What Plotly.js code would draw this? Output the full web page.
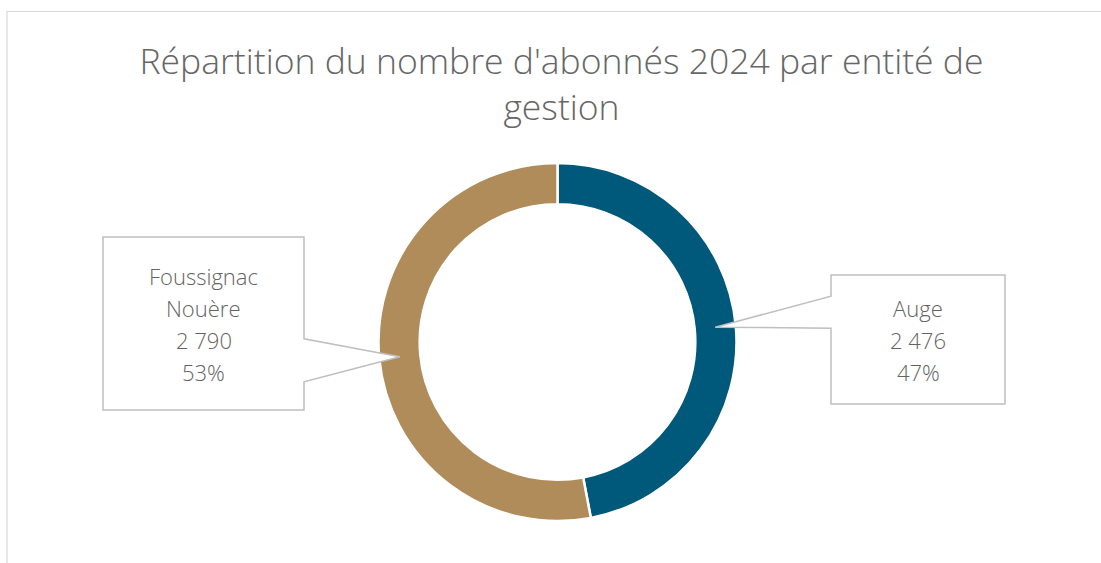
<!DOCTYPE html>
<html><head><meta charset="utf-8">
<script src="https://cdn.plot.ly/plotly-3.0.1.min.js"></script>
<style>html,body{margin:0;padding:0;background:#fff;}#c{width:1101px;height:563px;}</style>
</head><body><div id="c"></div>
<script>
const categories = ["Auge", "Foussignac Nouère"];
const labelLines = [["Auge"], ["Foussignac", "Nouère"]];
const values = [2476, 2790];
const colors = ["#00587a", "#b08c5a"];
const titleText = "Répartition du nombre d'abonnés 2024 par entité de<br>gestion";

const W = 1101, H = 563;
const px = x => x / W, py = y => 1 - y / H;
const cx = 557.5, cy = 342, R = 179, hole = 0.77;
const total = values.reduce((a, b) => a + b, 0);
const fmt = v => String(v).replace(/\B(?=(\d{3})+(?!\d))/g, " ");

// callout boxes (pixel layout)
const boxes = [
  {x0: 831, y0: 275, x1: 1005, y1: 404, side: "left"},
  {x0: 103, y0: 237, x1: 304, y1: 410, side: "right"}
];

const shapes = [{
  type: "rect", xref: "paper", yref: "paper",
  x0: px(7), x1: px(1120), y0: py(11.5), y1: py(600),
  line: {color: "#d9d9d9", width: 1.2}, fillcolor: "rgba(0,0,0,0)", layer: "below"
}];
const annotations = [];

let cum = 0;
values.forEach((v, i) => {
  const mid = (cum + v / 2) / total;
  cum += v;
  const th = 2 * Math.PI * mid;
  const rm = R * (1 + hole) / 2;
  const tx = cx + rm * Math.sin(th), ty = cy - rm * Math.cos(th);
  const b = boxes[i];
  let d;
  if (b.side === "left") {
    const ya = ty - 31, yb = ty + 1;
    d = `M${px(b.x0)},${py(b.y0)} L${px(b.x1)},${py(b.y0)} L${px(b.x1)},${py(b.y1)} L${px(b.x0)},${py(b.y1)} L${px(b.x0)},${py(yb)} L${px(tx)},${py(ty)} L${px(b.x0)},${py(ya)} Z`;
  } else {
    const ya = ty - 18, yb = ty + 25;
    d = `M${px(b.x0)},${py(b.y0)} L${px(b.x1)},${py(b.y0)} L${px(b.x1)},${py(ya)} L${px(tx)},${py(ty)} L${px(b.x1)},${py(yb)} L${px(b.x1)},${py(b.y1)} L${px(b.x0)},${py(b.y1)} Z`;
  }
  shapes.push({type: "path", xref: "paper", yref: "paper", path: d,
    fillcolor: "#ffffff", line: {color: "#bfbfbf", width: 1.5}, layer: "above"});
  const lines = labelLines[i].concat([fmt(v), Math.round(v / total * 100) + "%"]);
  const lh = 32;
  const bc = (b.y0 + b.y1) / 2;
  const bx = (b.x0 + b.x1) / 2;
  lines.forEach((t, k) => {
    const yy = bc + (k - (lines.length - 1) / 2) * lh;
    annotations.push({xref: "paper", yref: "paper", x: px(bx), y: py(yy),
      xanchor: "center", yanchor: "middle", showarrow: false, text: t,
      font: {family: "Open Sans, Noto Sans, sans-serif", size: 22, color: "#636363", weight: 300}});
  });
});

const data = [{
  type: "pie", labels: categories, values: values, hole: hole,
  sort: false, direction: "clockwise", rotation: 0,
  marker: {colors: colors, line: {color: "#ffffff", width: 2.5}},
  textinfo: "none", hoverinfo: "label+value+percent", showlegend: false,
  domain: {x: [px(cx - R), px(cx + R)], y: [py(cy + R), py(cy - R)]}
}];

const layout = {
  width: W, height: H, margin: {l: 0, r: 0, t: 0, b: 0},
  paper_bgcolor: "#ffffff", plot_bgcolor: "#ffffff", showlegend: false,
  title: {text: titleText, x: 561.5 / W, xanchor: "center", xref: "paper",
    y: 1 - 74 / H, yanchor: "top", yref: "container",
    font: {family: "Open Sans, Noto Sans, sans-serif", size: 35.5, color: "#666666", weight: 300}},
  shapes: shapes, annotations: annotations
};
Plotly.newPlot("c", data, layout, {displayModeBar: false, staticPlot: true});
</script></body></html>
